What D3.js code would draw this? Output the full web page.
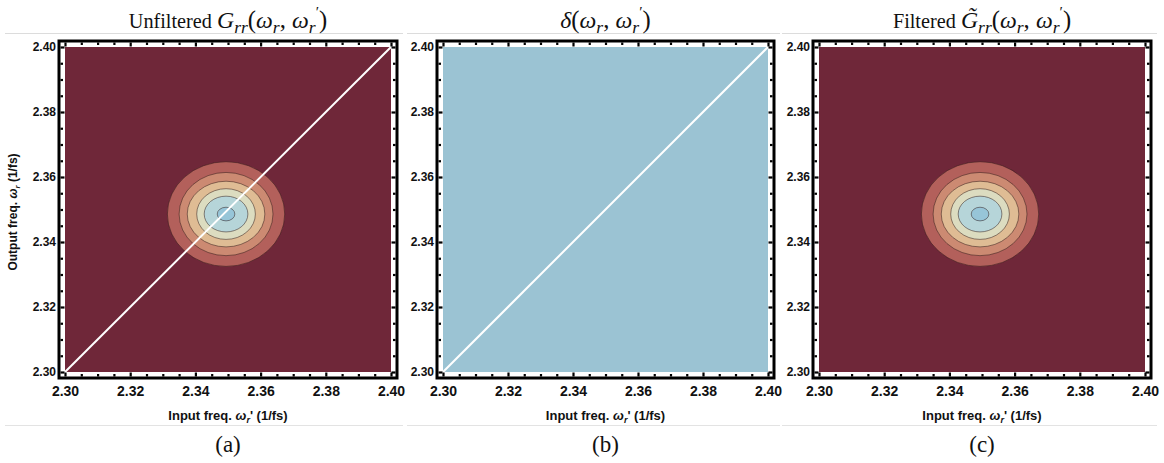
<!DOCTYPE html>
<html><head><meta charset="utf-8">
<script src="https://cdn.jsdelivr.net/npm/d3@7"></script>
<style>body{margin:0;background:#fff}</style></head>
<body><svg id="c" width="1164" height="463"></svg>
<script>
// ---- data ----
const domain = [2.30, 2.40];
const majorTicks = [2.30, 2.32, 2.34, 2.36, 2.38, 2.40];
const minorTicks = [2.305, 2.31, 2.315, 2.325, 2.33, 2.335, 2.345, 2.35, 2.355, 2.365, 2.37, 2.375, 2.385, 2.39, 2.395];
const tickLabels = ["2.30", "2.32", "2.34", "2.36", "2.38", "2.40"];
const peakCenter = [2.3494, 2.3486];
// contour levels (outer -> inner), semi-axes in data units
const contourRx = [0.0180, 0.0144, 0.0119, 0.0090, 0.0067, 0.0027];
const contourRy = [0.0161, 0.0128, 0.0101, 0.0078, 0.0055, 0.0021];
const contourColors = ["#b3605b", "#cc8a72", "#dfbc94", "#dcdcc0", "#b6d5d9", "#97c5d8"];
const backgroundColors = ["#6f2739", "#9bc3d3", "#6f2739"];
const showPeak = [true, false, true];
const showDiagonal = [true, true, false];
const subLabels = ["(a)", "(b)", "(c)"];

// ---- layout ----
const panels = [
  {x0: 65, x1: 391, sepL: 5, sepR: 403},
  {x0: 443, x1: 768, sepL: 407, sepR: 780},
  {x0: 819, x1: 1145, sepL: 782, sepR: 1157}
];
const yTop = 47, yBot = 372;
const svg = d3.select("#c");

const titleParts = [
  [["Unfiltered ", "w"], ["G", "i"], ["rr", "sub"], ["(", "n"], ["ω", "i"], ["r", "sub"], [", ", "n"], ["ω", "i"], ["r", "sub"], ["′", "prime"], [")", "n"]],
  [["δ", "i"], ["(", "n"], ["ω", "i"], ["r", "sub"], [", ", "n"], ["ω", "i"], ["r", "sub"], ["′", "prime"], [")", "n"]],
  [["Filtered ", "w"], ["G\u0303", "i"], ["rr", "sub"], ["(", "n"], ["ω", "i"], ["r", "sub"], [", ", "n"], ["ω", "i"], ["r", "sub"], ["′", "prime"], [")", "n"]]
];

function addMath(text, parts, size) {
  let shift = 0; // current baseline offset
  const setShift = (ts, target) => { if (target !== shift) { ts.attr("dy", target - shift); shift = target; } };
  parts.forEach(([t, k]) => {
    const ts = text.append("tspan").text(t);
    if (k === "w") { ts.attr("font-size", size * 0.92); setShift(ts, 0); }
    else if (k === "i") { ts.attr("font-style", "italic").attr("font-size", size * 1.08); setShift(ts, 0); }
    else if (k === "sub") { ts.attr("font-style", "italic").attr("font-size", size * 0.8); setShift(ts, size * 0.22); }
    else if (k === "prime") { ts.attr("font-size", size * 0.7).attr("dx", 0); setShift(ts, -size * 0.5); }
    else { ts.attr("font-size", size * 1.12); setShift(ts, 0); }
  });
}

panels.forEach((p, i) => {
  const x = d3.scaleLinear().domain(domain).range([p.x0, p.x1]);
  const y = d3.scaleLinear().domain(domain).range([yBot, yTop]);
  const g = svg.append("g");
  const cx = (p.x0 + p.x1) / 2;

  // separators
  g.append("line").attr("x1", p.sepL).attr("x2", p.sepR).attr("y1", 33.5).attr("y2", 33.5).attr("stroke", "#dcdcdc");
  g.append("line").attr("x1", p.sepL).attr("x2", p.sepR).attr("y1", 425.5).attr("y2", 425.5).attr("stroke", "#e3e3e3");

  // background
  g.append("rect").attr("x", x(domain[0])).attr("y", y(domain[1]))
    .attr("width", x(domain[1]) - x(domain[0])).attr("height", y(domain[0]) - y(domain[1]))
    .attr("fill", backgroundColors[i]);

  // contours
  if (showPeak[i]) {
    contourRx.forEach((rx, j) => {
      g.append("ellipse")
        .attr("cx", x(peakCenter[0])).attr("cy", y(peakCenter[1]))
        .attr("rx", x(domain[0] + rx) - x(domain[0]))
        .attr("ry", y(domain[0]) - y(domain[0] + contourRy[j]))
        .attr("fill", contourColors[j])
        .attr("stroke", "rgba(40,20,20,0.55)").attr("stroke-width", 0.9);
    });
  }

  // diagonal
  if (showDiagonal[i]) {
    g.append("line").attr("x1", x(domain[0])).attr("y1", y(domain[0]))
      .attr("x2", x(domain[1])).attr("y2", y(domain[1]))
      .attr("stroke", "#fff").attr("stroke-width", 2);
  }

  // frame
  const off = 6;
  g.append("rect").attr("x", p.x0 - off).attr("y", yTop - off)
    .attr("width", p.x1 - p.x0 + 2 * off).attr("height", yBot - yTop + 2 * off)
    .attr("fill", "none").attr("stroke", "#000").attr("stroke-width", 3);

  const inner = off - 1.5;
  const mkAxis = (axisFn, scale, ticks, len) => axisFn(scale).tickValues(ticks).tickSize(-len).tickFormat("");
  [[majorTicks, 4], [minorTicks, 2.5]].forEach(([tv, len]) => {
    g.append("g").attr("transform", `translate(0,${yBot + inner})`).call(mkAxis(d3.axisBottom, x, tv, len));
    g.append("g").attr("transform", `translate(0,${yTop - inner})`).call(mkAxis(d3.axisTop, x, tv, len));
    g.append("g").attr("transform", `translate(${p.x0 - inner},0)`).call(mkAxis(d3.axisLeft, y, tv, len));
    g.append("g").attr("transform", `translate(${p.x1 + inner},0)`).call(mkAxis(d3.axisRight, y, tv, len));
  });
  g.selectAll(".domain").remove();
  g.selectAll(".tick line").attr("stroke", "#000").attr("stroke-width", 2.2);

  // tick labels
  const xl = g.append("g").attr("transform", `translate(0,${yBot + off + 1})`)
    .call(d3.axisBottom(x).tickValues(majorTicks).tickSize(0).tickPadding(7).tickFormat((d, k) => tickLabels[k]));
  xl.select(".domain").remove();
  xl.selectAll("text").attr("font-family", "Liberation Sans, Arial, sans-serif").attr("font-weight", "bold").attr("font-size", 14).attr("fill", "#111");
  const yl = g.append("g").attr("transform", `translate(${p.x0 - off - 1},0)`)
    .call(d3.axisLeft(y).tickValues(majorTicks).tickSize(0).tickPadding(2).tickFormat((d, k) => tickLabels[k]));
  yl.select(".domain").remove();
  yl.selectAll("text").attr("font-family", "Liberation Sans, Arial, sans-serif").attr("font-weight", "bold").attr("font-size", 12).attr("fill", "#111");

  // x axis title
  const xt = g.append("text").attr("x", x(2.35)).attr("y", 420)
    .attr("text-anchor", "middle").attr("font-family", "Liberation Sans, Arial, sans-serif")
    .attr("font-weight", "bold").attr("font-size", 13).attr("fill", "#111");
  xt.append("tspan").text("Input freq. ");
  xt.append("tspan").text("ω").attr("font-style", "italic");
  xt.append("tspan").text("r").attr("font-style", "italic").attr("font-size", 9).attr("dy", 3);
  xt.append("tspan").text("' (1/fs)").attr("dy", -3);

  // panel title
  const tt = g.append("text").attr("x", cx).attr("y", 28).attr("text-anchor", "middle")
    .attr("font-family", "Liberation Serif, Times New Roman, serif").attr("font-size", 22).attr("fill", "#111");
  addMath(tt, titleParts[i], 22);

  // sub label
  g.append("text").attr("x", cx).attr("y", 452).attr("text-anchor", "middle")
    .attr("font-family", "Liberation Serif, Times New Roman, serif").attr("font-size", 23).attr("fill", "#111")
    .text(subLabels[i]);
});

// y axis title (panel a only)
const yt = svg.append("text").attr("transform", "translate(17,212) rotate(-90)")
  .attr("text-anchor", "middle").attr("font-family", "Liberation Sans, Arial, sans-serif")
  .attr("font-weight", "bold").attr("font-size", 12).attr("fill", "#111");
yt.append("tspan").text("Output freq. ");
yt.append("tspan").text("ω").attr("font-style", "italic");
yt.append("tspan").text("r").attr("font-style", "italic").attr("font-size", 8).attr("dy", 3);
yt.append("tspan").text(" (1/fs)").attr("dy", -3);
</script></body></html>
